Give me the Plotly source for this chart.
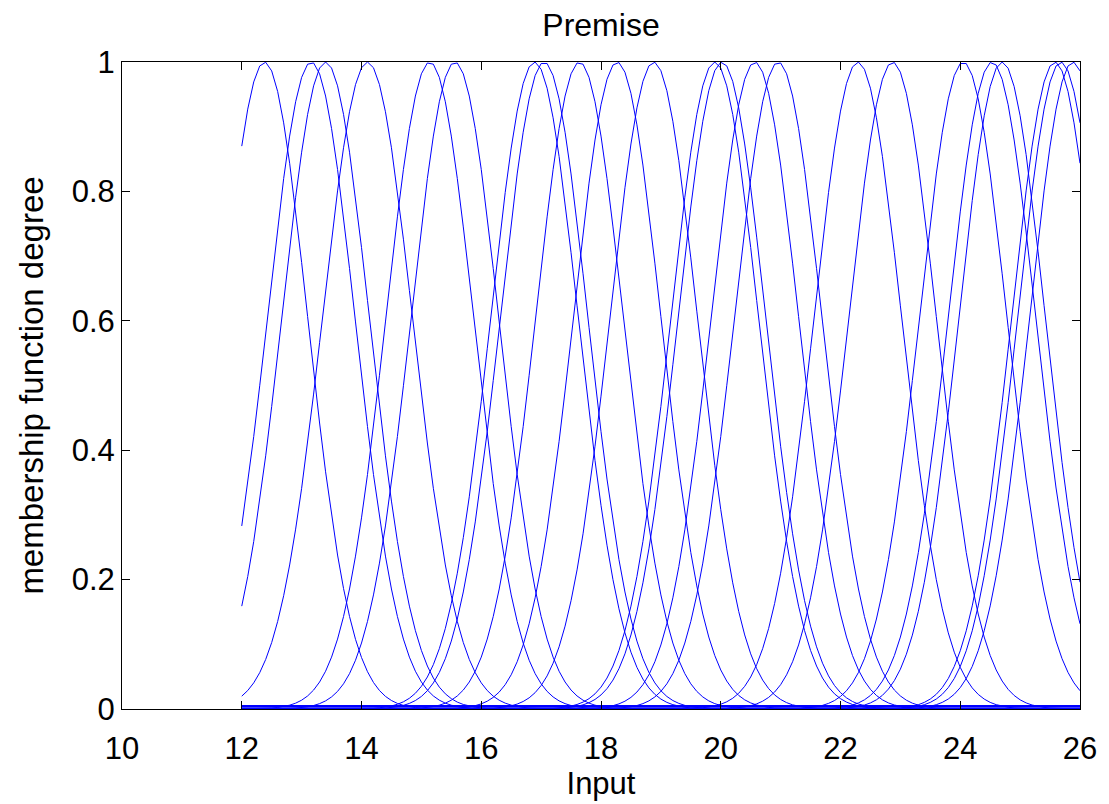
import numpy as np
import plotly.graph_objects as go

# Gaussian membership function parameters
centers = [12.38, 13.16, 13.40, 14.10, 15.14, 15.56, 16.89, 17.05, 17.64, 18.27,
           18.88, 19.90, 20.02, 20.57, 20.96, 22.29, 22.87, 24.05, 24.53, 24.70,
           25.58, 25.68, 25.88]
sigmas = [0.72, 0.73, 0.73, 0.75, 0.73, 0.73, 0.73, 0.73, 0.73, 0.73,
          0.73, 0.73, 0.73, 0.73, 0.73, 0.73, 0.73, 0.73, 0.73, 0.72,
          0.72, 0.72, 0.72]
baseline_levels = [0.0045, 0.0012]
input_range = [12, 26]

x_ticks = [10, 12, 14, 16, 18, 20, 22, 24, 26]
y_ticks = [0, 0.2, 0.4, 0.6, 0.8, 1]
y_tick_text = ["0", "0.2", "0.4", "0.6", "0.8", "1"]

x = np.linspace(input_range[0], input_range[1], 141)

fig = go.Figure()
BLUE = "rgb(0,0,255)"
for lvl in baseline_levels:
    fig.add_trace(go.Scatter(x=input_range, y=[lvl, lvl], mode="lines",
                             line=dict(color=BLUE, width=2), showlegend=False,
                             hoverinfo="skip"))
for c, s in zip(centers, sigmas):
    y = np.exp(-((x - c) ** 2) / (2 * s ** 2))
    fig.add_trace(go.Scatter(x=x, y=y, mode="lines",
                             line=dict(color=BLUE, width=1), showlegend=False))

FONT = "Liberation Sans, Arial, sans-serif"
fig.update_layout(
    width=1109, height=804,
    margin=dict(l=122, r=24, t=62, b=94),
    paper_bgcolor="white", plot_bgcolor="white",
    font=dict(family=FONT, size=30, color="black"),
    title=dict(text="Premise", x=0.5, xanchor="center", xref="paper",
               y=1 - 25 / 804, yref="container", yanchor="middle",
               font=dict(family=FONT, size=32, color="black")),
    xaxis=dict(range=[10, 26], tickvals=x_ticks, ticks="inside", ticklen=8,
               tickcolor="black", showline=True, linecolor="black", linewidth=1,
               mirror="ticks", showgrid=False, zeroline=False,
               tickfont=dict(size=31), ticklabelstandoff=12,
               title=dict(text="Input", font=dict(size=31), standoff=4)),
    yaxis=dict(range=[0, 1], tickvals=y_ticks, ticktext=y_tick_text,
               ticks="inside", ticklen=8, tickcolor="black", showline=True,
               linecolor="black", linewidth=1, mirror="ticks", showgrid=False,
               zeroline=False, tickfont=dict(size=31),
               title=dict(text="membership function degree", font=dict(size=33),
                          standoff=18)),
)

fig.write_html("out.html")
